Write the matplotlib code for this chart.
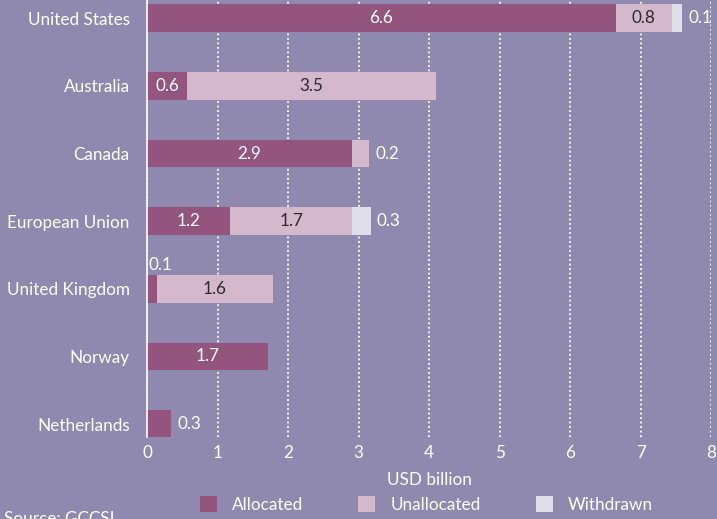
import matplotlib.pyplot as plt
import numpy as np

# data (USD billion), top to bottom as in the chart
countries = ["United States", "Australia", "Canada", "European Union",
             "United Kingdom", "Norway", "Netherlands"]
allocated = [6.649, 0.57, 2.91, 1.18, 0.14, 1.72, 0.34]
unallocated = [0.79, 3.53, 0.24, 1.73, 1.64, 0.0, 0.0]
withdrawn = [0.149, 0.0, 0.0, 0.26, 0.0, 0.0, 0.0]

bg = "#8F89B0"
c_alloc = "#93547E"
c_unalloc = "#D3B9CB"
c_withdr = "#E0DEE8"

plt.rcParams['font.family'] = ['Lato', 'DejaVu Sans']

fig = plt.figure(figsize=(7.17, 5.19), dpi=100, facecolor=bg)
ax = fig.add_axes([0.205, 0.158, 0.787, 0.842], facecolor=bg)

y = np.arange(len(countries))[::-1]
h = 0.41
alloc = np.array(allocated)
unal = np.array(unallocated)
wd = np.array(withdrawn)

ax.barh(y, alloc, height=h, color=c_alloc, label="Allocated", zorder=2)
ax.barh(y, unal, left=alloc, height=h, color=c_unalloc, label="Unallocated", zorder=2)
ax.barh(y, wd, left=alloc + unal, height=h, color=c_withdr, label="Withdrawn", zorder=2)

fs = 12.3
# labels for each segment
for i in range(len(countries)):
    yy = y[i]
    segs = [(alloc[i], 0, "white"), (unal[i], alloc[i], "#2B2B2B"), (wd[i], alloc[i] + unal[i], "white")]
    total = alloc[i] + unal[i] + wd[i]
    for val, start, col in segs:
        if val <= 0:
            continue
        txt = "%.1f" % val
        if val >= 0.5:
            ax.text(start + val / 2, yy, txt, ha="center", va="center", color=col, fontsize=fs, zorder=3)
        elif start == 0 and unal[i] > 0.5:
            # small first segment: label above the bar
            ax.text(0.02, yy + h / 2 + 0.03, txt, ha="left", va="bottom", color="white", fontsize=fs, zorder=3)
        else:
            ax.text(total + 0.09, yy, txt, ha="left", va="center", color="white", fontsize=fs, zorder=3)

ax.set_xlim(0, 8)
ax.set_ylim(-0.19, 6.27)
ax.set_xticks(range(9))
ax.set_yticks(y)
ax.set_yticklabels(countries)
ax.tick_params(axis="both", length=0, colors="white", labelsize=fs)
ax.tick_params(axis="y", pad=12.5)
ax.tick_params(axis="x", pad=6)

for s in ["top", "right", "bottom"]:
    ax.spines[s].set_visible(False)
ax.spines["left"].set_color("white")
ax.spines["left"].set_linewidth(1.2)

ax.grid(axis="x", color="white", linestyle=(0, (1, 1.5)), linewidth=1.3, zorder=1)
ax.set_axisbelow(True)

ax.set_xlabel("USD billion", color="white", fontsize=fs, labelpad=8)

leg = fig.legend(loc="lower center", bbox_to_anchor=(0.595, -0.018), ncol=3, frameon=False,
                 fontsize=fs, handlelength=1.0, handleheight=1.0, columnspacing=3.2, handletextpad=0.9)
for t in leg.get_texts():
    t.set_color("white")

fig.text(0.005, -0.016, "Source: GCCSI", color="white", fontsize=fs, ha="left", va="bottom")

fig.savefig("out.png", dpi=100, facecolor=bg)
